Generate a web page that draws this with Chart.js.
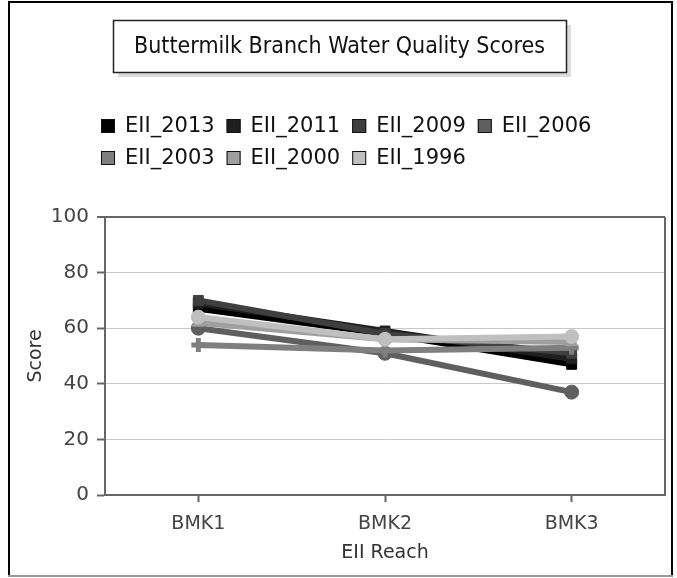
<!DOCTYPE html>
<html><head><meta charset="utf-8">
<script src="https://cdn.jsdelivr.net/npm/chart.js@4/dist/chart.umd.min.js"></script>
<style>html,body{margin:0;padding:0;background:#fff;} #wrap{width:677px;height:578px;position:relative;}</style>
</head><body><div id="wrap"><canvas id="c" width="677" height="578"></canvas></div>
<script>
const chartTitle = 'Buttermilk Branch Water Quality Scores';
const categories = ['BMK1', 'BMK2', 'BMK3'];
const seriesNames = ['EII_2013', 'EII_2011', 'EII_2009', 'EII_2006', 'EII_2003', 'EII_2000', 'EII_1996'];
const eii2013 = [67, 58, 47];
const eii2011 = [69, 59, 49];
const eii2009 = [70, 58, 51];
const eii2006 = [60, 51, 37];
const eii2003 = [54, 52, 53];
const eii2000 = [62, 56, 55];
const eii1996 = [64, 56, 57];
const yTicks = [0, 20, 40, 60, 80, 100];
const xTitle = 'EII Reach';
const yTitle = 'Score';

const seriesValues = [eii2013, eii2011, eii2009, eii2006, eii2003, eii2000, eii1996];
const colors = ['#000000', '#1f1f1f', '#3f3f3f', '#5f5f5f', '#7f7f7f', '#9f9f9f', '#bfbfbf'];
const shapes = ['rect', 'rect', 'rect', 'circle', 'cross', 'triangle', 'circle'];

const FONT = '"DejaVu Sans", sans-serif';

const datasets = seriesNames.map((n, i) => ({
  label: n,
  data: seriesValues[i],
  borderColor: colors[i],
  backgroundColor: colors[i],
  borderWidth: 6,
  pointStyle: shapes[i],
  pointRadius: 7,
  pointBorderWidth: shapes[i] === 'cross' ? 5 : 1,
  pointBackgroundColor: colors[i],
  pointBorderColor: colors[i],
  tension: 0,
  order: seriesNames.length - i
}));

const decor = {
  id: 'decor',
  beforeDraw(chart) {
    const ctx = chart.ctx;
    ctx.save();
    ctx.fillStyle = '#fff';
    ctx.fillRect(0, 0, chart.width, chart.height);
    ctx.strokeStyle = '#000';
    ctx.lineWidth = 2;
    ctx.beginPath();
    ctx.moveTo(9, 577); ctx.lineTo(9, 2); ctx.lineTo(672, 2); ctx.lineTo(672, 577);
    ctx.stroke();
    ctx.strokeStyle = '#999';
    ctx.lineWidth = 2;
    ctx.beginPath(); ctx.moveTo(8, 576); ctx.lineTo(673, 576); ctx.stroke();
    ctx.restore();
  },
  afterDraw(chart) {
    const ctx = chart.ctx;
    const a = chart.chartArea;
    ctx.save();
    ctx.strokeStyle = '#666';
    ctx.lineWidth = 2;
    ctx.beginPath(); ctx.moveTo(a.right, a.top); ctx.lineTo(a.right, a.bottom); ctx.stroke();
    // title box
    const bx = 113, by = 20, bw = 453, bh = 52;
    ctx.fillStyle = '#dcdcdc';
    ctx.fillRect(bx + 5, by + 5, bw, bh);
    ctx.fillStyle = '#fff';
    ctx.fillRect(bx, by, bw, bh);
    ctx.strokeStyle = '#222';
    ctx.lineWidth = 1.5;
    ctx.strokeRect(bx + 0.5, by + 0.5, bw, bh);
    ctx.fillStyle = '#111';
    ctx.font = '23px "DejaVu Sans Condensed", ' + FONT;
    ctx.textAlign = 'center';
    ctx.textBaseline = 'middle';
    ctx.fillText(chartTitle, bx + bw / 2, by + bh / 2 + 1);
    // legend
    ctx.font = '21px ' + FONT;
    ctx.textAlign = 'left';
    const rows = [[0, 1, 2, 3], [4, 5, 6]];
    const rowY = [126, 158];
    rows.forEach((row, r) => {
      let x = 101;
      row.forEach(i => {
        const y = rowY[r];
        ctx.fillStyle = colors[i];
        ctx.fillRect(x, y - 7, 14, 14);
        ctx.strokeStyle = '#111';
        ctx.lineWidth = 1;
        ctx.strokeRect(x + 0.5, y - 6.5, 13, 13);
        ctx.fillStyle = '#111';
        ctx.fillText(seriesNames[i], x + 24, y + 1);
        x += 24 + ctx.measureText(seriesNames[i]).width + 12;
      });
    });
    ctx.restore();
  }
};

new Chart(document.getElementById('c'), {
  type: 'line',
  data: { labels: categories, datasets },
  options: {
    responsive: false,
    animation: false,
    devicePixelRatio: 1,
    layout: { padding: { top: 217, right: 11, bottom: 0, left: 0 } },
    plugins: { legend: { display: false }, title: { display: false }, tooltip: { enabled: false } },
    scales: {
      x: {
        type: 'category',
        offset: true,
        grid: { drawOnChartArea: false, drawTicks: true, tickLength: 7, tickColor: '#666', tickWidth: 2, offset: false },
        border: { display: true, color: '#666', width: 2 },
        ticks: { color: '#444', font: { family: FONT, size: 19 }, padding: 11 },
        title: { display: true, text: xTitle, color: '#333', font: { family: FONT, size: 19 }, padding: { top: 0, bottom: 14 } },
        afterFit(s) { s.height = 83; }
      },
      y: {
        min: 0, max: 100,
        afterBuildTicks(s) { s.ticks = yTicks.map(v => ({ value: v })); },
        grid: {
          color: c => (c.tick && c.tick.value === 100) ? '#666' : '#c8c8c8',
          lineWidth: c => (c.tick && c.tick.value === 100) ? 2 : 1,
          tickColor: '#666', tickWidth: 2, tickLength: 8
        },
        border: { display: true, color: '#666', width: 2 },
        ticks: { color: '#444', font: { family: FONT, size: 20 }, padding: 8 },
        title: { display: true, text: yTitle, color: '#333', font: { family: FONT, size: 19 }, padding: { top: 25, bottom: 0 } },
        afterFit(s) { s.width = 105; }
      }
    }
  },
  plugins: [decor]
});
</script></body></html>
